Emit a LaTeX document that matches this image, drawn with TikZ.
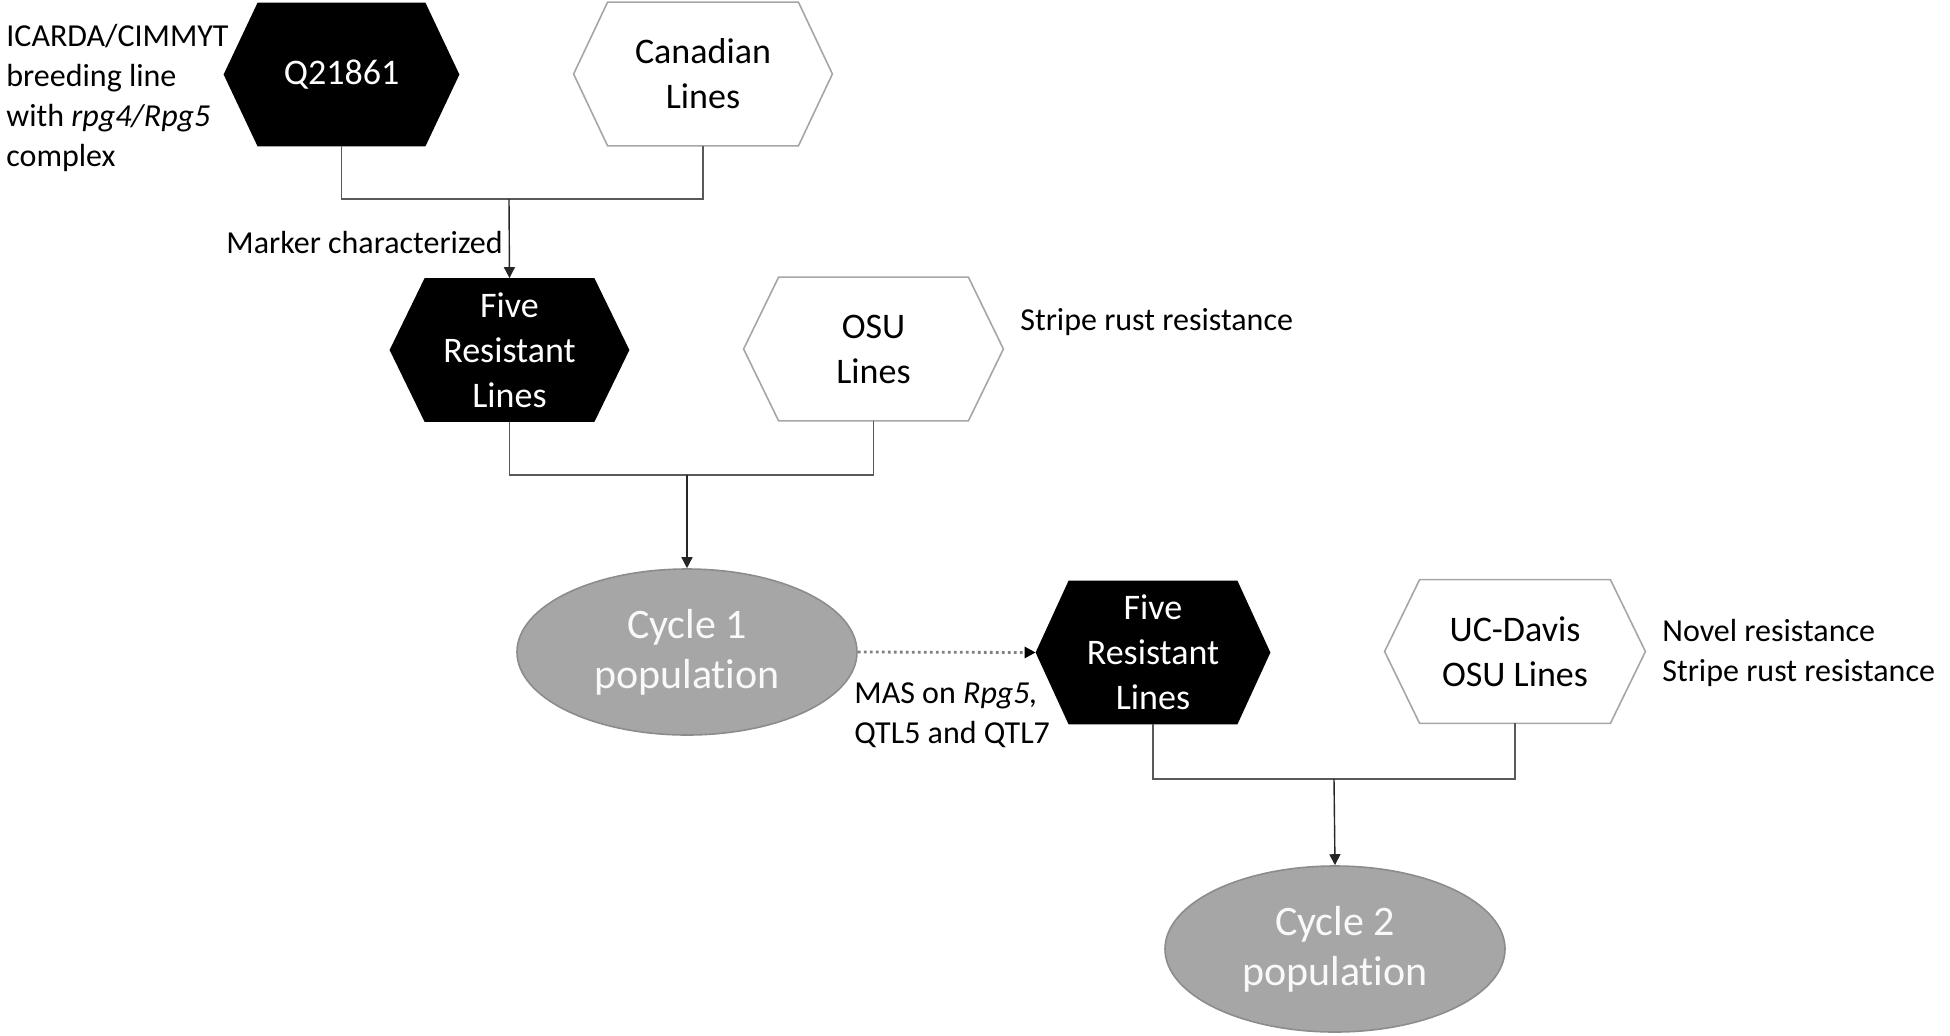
\documentclass[tikz,border=0pt]{standalone}
\usepackage{fontspec}
\setmainfont[Ligatures=NoCommon]{Carlito}
\usetikzlibrary{arrows.meta,backgrounds,shapes.geometric}
\definecolor{ellgray}{HTML}{A6A6A6}
\definecolor{ellline}{HTML}{8C8C8C}
\definecolor{hexline}{HTML}{A6A6A6}
\definecolor{conn}{HTML}{595959}
\tikzset{
  hexnode/.style={inner sep=0pt, minimum height=143*0.5pt, align=center,
    font=\fontsize{18}{22.5}\selectfont},
  blackhex/.style={hexnode, text=white},
  whitehex/.style={hexnode, text=black},
  cyc/.style={ellipse, draw=ellline, line width=0.8pt, fill=ellgray, text=white!95!gray,
    minimum width=340*0.5pt, minimum height=166*0.5pt, inner sep=0pt, align=center,
    font=\fontsize{21}{25}\selectfont},
  side/.style={inner sep=0pt, align=left, font=\fontsize{16}{20}\selectfont},
  conn/.style={draw=conn, line width=0.7pt},
  arr/.style={conn, draw=black!85, -{Triangle[length=5.5pt,width=5.5pt]}},
  dotarr/.style={draw=black!50, line width=1.4pt, dash pattern=on 1.4pt off 1.6pt,
    -{Triangle[length=5.5pt,width=5.5pt,fill=black,color=black]}},
}
\newcommand{\hexpath}[3]{%
  \path[#3] (#1.west) -- ([xshift=#2*0.5pt]#1.north west) -- ([xshift=-#2*0.5pt]#1.north east)
    -- (#1.east) -- ([xshift=-#2*0.5pt]#1.south east) -- ([xshift=#2*0.5pt]#1.south west) -- cycle;}
\begin{document}
\begin{tikzpicture}[x=0.5pt,y=-0.5pt]
\useasboundingbox (0,0) rectangle (1950,1035);
% hexagon nodes
\node[blackhex, minimum width=235*0.5pt] (q) at (341.5,74.5) {Q21861};
\node[whitehex, minimum width=258*0.5pt] (can) at (703,74) {Canadian\\Lines};
\node[blackhex, minimum width=239*0.5pt] (frl1) at (509.5,350) {Five\\Resistant\\Lines};
\node[whitehex, minimum width=259*0.5pt] (osu) at (873.5,349) {OSU\\Lines};
\node[blackhex, minimum width=234*0.5pt] (frl2) at (1153,652.5) {Five\\Resistant\\Lines};
\node[whitehex, minimum width=260*0.5pt] (ucd) at (1515,651.5) {UC-Davis\\OSU Lines};
% ellipses
\node[cyc] (c1) at (687,652) {Cycle 1\\population};
\node[cyc] (c2) at (1335,949) {Cycle 2\\population};
% hexagon outlines
\begin{scope}[on background layer]
\hexpath{q}{34}{fill=black}
\hexpath{can}{34}{draw=hexline, line width=0.8pt, fill=white}
\hexpath{frl1}{35}{fill=black}
\hexpath{osu}{35}{draw=hexline, line width=0.8pt, fill=white}
\hexpath{frl2}{33}{fill=black}
\hexpath{ucd}{35}{draw=hexline, line width=0.8pt, fill=white}
\end{scope}
% junction coordinates
\coordinate (j1) at (509,199);
\coordinate (j2) at (687,475);
\coordinate (j3) at (1334,779);
% connectors
\draw[conn] (q.south) |- (j1) -| (can.south);
\draw[arr] (j1) -- (frl1.north);
\draw[conn] (frl1.south) |- (j2) -| (osu.south);
\draw[arr] (j2) -- (c1.north);
\draw[dotarr] (c1.east) -- (frl2.west);
\draw[conn] (frl2.south) |- (j3) -| (ucd.south);
\draw[arr] (j3) -- (c2.north);
% side texts
\node[side, anchor=west] (t1) at (6,98) {ICARDA/CIMMYT\\breeding line\\with \textit{rpg4/Rpg5}\\complex};
\node[side, anchor=east] (t2) at (503,242) {Marker characterized};
\node[side, anchor=west] (t3) at (1020,322) {Stripe rust resistance};
\node[side, anchor=west] (t4) at (854,715) {MAS on \textit{Rpg5,}\\QTL5 and QTL7};
\node[side, anchor=west] (t5) at (1662,653) {Novel resistance\\Stripe rust resistance};
\end{tikzpicture}
\end{document}
